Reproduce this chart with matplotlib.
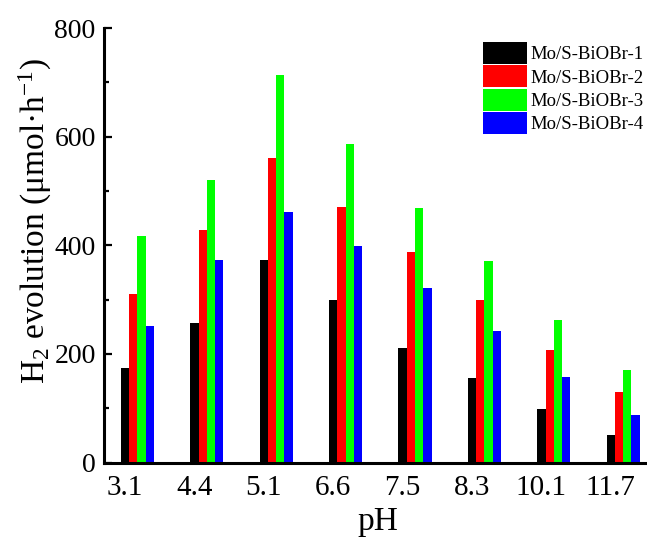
import matplotlib
matplotlib.use("Agg")
import matplotlib.pyplot as plt
import numpy as np
from matplotlib.ticker import MultipleLocator

plt.rcParams['font.family'] = ['Liberation Serif', 'DejaVu Serif']
plt.rcParams['mathtext.fontset'] = 'custom'
plt.rcParams['mathtext.rm'] = 'Liberation Serif'
plt.rcParams['mathtext.it'] = 'Liberation Serif:italic'

# H2 evolution rates (umol/h) at each pH
ph_labels = ['3.1', '4.4', '5.1', '6.6', '7.5', '8.3', '10.1', '11.7']
series_names = ['Mo/S-BiOBr-1', 'Mo/S-BiOBr-2', 'Mo/S-BiOBr-3', 'Mo/S-BiOBr-4']
bioBr_1 = [174, 257, 373, 300, 211, 155, 99, 50]
bioBr_2 = [310, 428, 560, 471, 388, 300, 207, 129]
bioBr_3 = [417, 520, 713, 586, 469, 371, 263, 170]
bioBr_4 = [252, 372, 461, 398, 321, 242, 158, 88]
colors = ['#000000', '#ff0000', '#00ff00', '#0000ff']

W, H = 647, 543
fig = plt.figure(figsize=(W / 100, H / 100), dpi=100)
ax = fig.add_axes([104 / W, 80.5 / H, (665 - 104) / W, 434.5 / H])

x = np.arange(len(ph_labels))
bw = 0.119
for k, (vals, name, c) in enumerate(zip([bioBr_1, bioBr_2, bioBr_3, bioBr_4],
                                         series_names, colors)):
    ax.bar(x + k * bw, vals, width=bw, color=c, label=name, linewidth=0)

ax.set_xlim(-21 / 69.4, 540 / 69.4)
ax.set_ylim(0, 800)
ax.set_xticks(x)
ax.set_xticklabels(ph_labels)
ax.yaxis.set_major_locator(MultipleLocator(200))
ax.yaxis.set_minor_locator(MultipleLocator(100))

for side in ('top', 'right'):
    ax.spines[side].set_visible(False)
for side in ('left', 'bottom'):
    ax.spines[side].set_linewidth(2.2)

ax.tick_params(axis='y', which='major', direction='in', length=6, width=1.6,
               labelsize=20, pad=6)
ax.tick_params(axis='y', which='minor', direction='in', length=3.5, width=1.6)
ax.tick_params(axis='x', which='both', length=0, labelsize=21, pad=9)

fig.text(378 / W, 1 - 522 / H, 'pH', ha='center', va='center', fontsize=24)
fig.text(35 / W, 1 - 221 / H, r'H$_2$ evolution (μmol·h$^{-1}$)',
         rotation=90, ha='center', va='center', fontsize=24)

fig.legend(loc='upper left', bbox_to_anchor=(483 / W, 1 - 42 / H),
           bbox_transform=fig.transFigure, frameon=False, fontsize=13.5,
           handlelength=2.35, handleheight=1.43, handletextpad=0.2,
           labelspacing=0.07, borderpad=0, borderaxespad=0)

fig.savefig('out.png', dpi=100)
